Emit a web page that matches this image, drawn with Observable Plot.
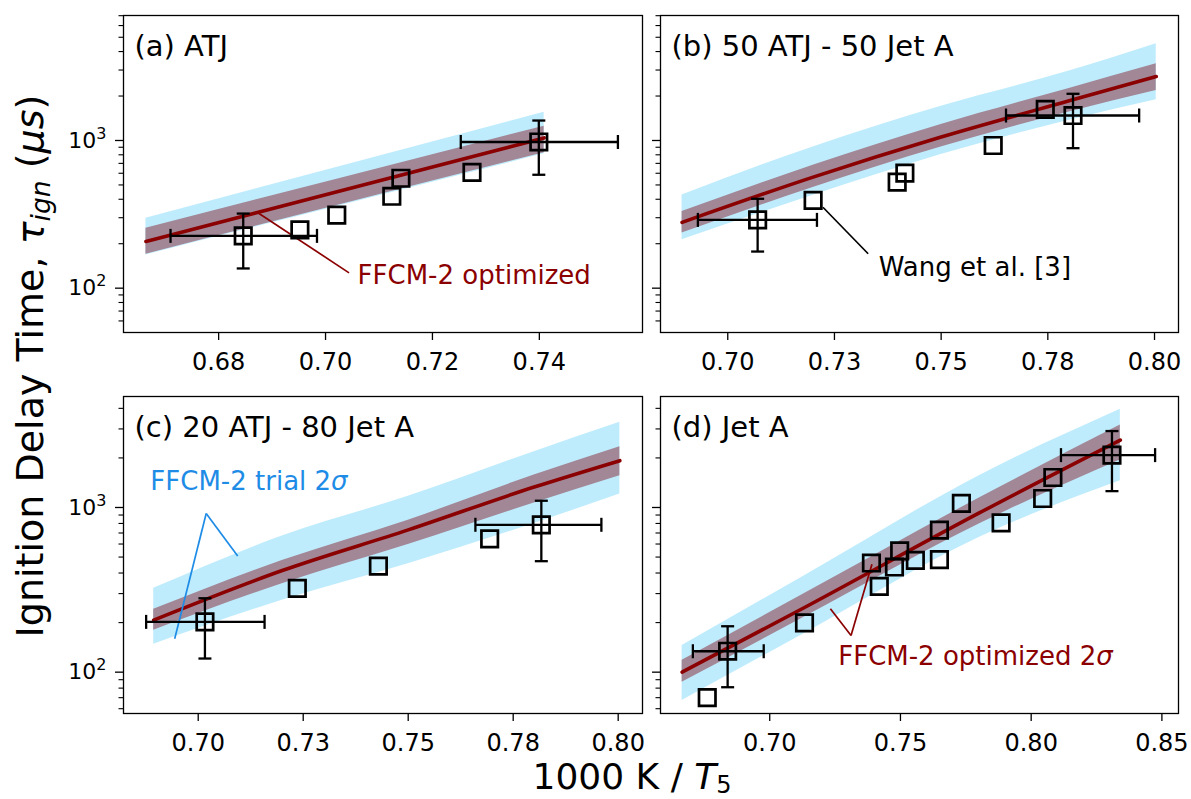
<!DOCTYPE html>
<html>
<head>
<meta charset="utf-8">
<script src="https://cdn.jsdelivr.net/npm/d3@7"></script>
<script src="https://cdn.jsdelivr.net/npm/@observablehq/plot@0.6"></script>
<style>
  body { margin: 0; background: #fff; }
  #fig { position: relative; width: 1191px; height: 799px; overflow: hidden; background: #fff; font-family: "DejaVu Sans"; }
  #fig > svg { position: absolute; }
</style>
</head>
<body>
<div id="fig"></div>
<script>
// ---------------- Panel (a) ATJ ----------------
const aTitle = "(a) ATJ";
const aModelX = [0.6664, 0.7036, 0.7409];
const aModel = [207, 464, 1041];
const aTrialLo = [168, 369, 812];
const aTrialHi = [298, 680, 1552];
const aOptLo = [170, 375, 825];
const aOptHi = [255, 564, 1249];
const aX = [0.6846, 0.6952, 0.7021, 0.7124, 0.7141, 0.7274, 0.7399];
const aY = [226, 248, 312, 419, 555, 608, 977];
const aErrX = [0.6846, 0.7399];
const aErrY = [226, 977];
const aErrYLo = [136, 586];
const aErrYHi = [320, 1365];
const aErrXLo = [0.6710, 0.7253];
const aErrXHi = [0.6984, 0.7547];
const aXTicks = [0.68, 0.70, 0.72, 0.74];
const aXTickLabels = ["0.68", "0.70", "0.72", "0.74"];
const aNoteText = ["FFCM-2 optimized"];
const aNoteX = [0.7060];
const aNoteY = [122];
const aNoteLineX1 = [0.6872];
const aNoteLineY1 = [327];
const aNoteLineX2 = [0.7044];
const aNoteLineY2 = [127];

// ---------------- Panel (b) 50 ATJ - 50 Jet A ----------------
const bTitle = "(b) 50 ATJ - 50 Jet A";
const bModelX = [0.6893, 0.7200, 0.7498, 0.7800, 0.8004];
const bModel = [279, 565, 1052, 1857, 2713];
const bTrialLo = [213, 425, 800, 1370, 1888];
const bTrialHi = [428, 905, 1700, 2950, 4520];
const bOptLo = [236, 480, 900, 1560, 2183];
const bOptHi = [330, 680, 1280, 2250, 3303];
const bX = [0.7070, 0.7200, 0.7397, 0.7415, 0.7622, 0.7744, 0.7809];
const bY = [290, 393, 523, 601, 925, 1623, 1476];
const bErrX = [0.7070, 0.7809];
const bErrY = [290, 1476];
const bErrYLo = [177, 887];
const bErrYHi = [403, 2071];
const bErrXLo = [0.6930, 0.7652];
const bErrXHi = [0.7209, 0.7964];
const bcXTicks = [0.700, 0.725, 0.750, 0.775, 0.800];
const bcXTickLabels = ["0.70", "0.73", "0.75", "0.78", "0.80"];
const bNoteText = ["Wang et al. [3]"];
const bNoteX = [0.7354];
const bNoteY = [137];
const bNoteLineX1 = [0.7223];
const bNoteLineY1 = [353];
const bNoteLineX2 = [0.7329];
const bNoteLineY2 = [171];

// ---------------- Panel (c) 20 ATJ - 80 Jet A ----------------
const cTitle = "(c) 20 ATJ - 80 Jet A";
const cModelX = [0.6894, 0.7200, 0.7500, 0.7800, 0.8004];
const cModel = [207, 414, 731, 1331, 1925];
const cTrialLo = [148, 273, 455, 800, 1207];
const cTrialHi = [323, 671, 1170, 2183, 3290];
const cOptLo = [180, 344, 595, 1065, 1559];
const cOptHi = [241, 476, 838, 1573, 2340];
const cX = [0.7016, 0.7236, 0.7429, 0.7694, 0.7817];
const cY = [202, 323, 441, 645, 785];
const cErrX = [0.7016, 0.7817];
const cErrY = [202, 785];
const cErrYLo = [121, 472];
const cErrYHi = [281, 1099];
const cErrXLo = [0.6876, 0.7660];
const cErrXHi = [0.7158, 0.7960];
const cNoteText = ["FFCM-2 trial 2σ"];
const cNoteX = [0.6886];
const cNoteY = [1429];
const cNoteLineX1 = [0.7019, 0.7019];
const cNoteLineY1 = [919, 919];
const cNoteLineX2 = [0.6944, 0.7094];
const cNoteLineY2 = [159.5, 508];

// ---------------- Panel (d) Jet A ----------------
const dTitle = "(d) Jet A";
const dModelX = [0.6665, 0.7133, 0.7805, 0.8341];
const dModel = [100, 247, 933, 2565];
const dTrialLo = [67.3, 172, 662, 1452];
const dTrialHi = [145, 385, 1571, 3945];
const dOptLo = [86.9, 216, 800, 1941];
const dOptHi = [118, 300, 1150, 3164];
const dX = [0.6761, 0.6839, 0.7133, 0.7389, 0.7419, 0.7477, 0.7497, 0.7557, 0.7649, 0.7649, 0.7733, 0.7885, 0.8044, 0.8083, 0.8309];
const dY = [70, 134, 199, 460, 332, 435, 545, 477, 728, 483, 1058, 806, 1134, 1521, 2080];
const dErrX = [0.6839, 0.8309];
const dErrY = [134, 2080];
const dErrYLo = [81, 1257];
const dErrYHi = [190, 2912];
const dErrXLo = [0.6706, 0.8114];
const dErrXHi = [0.6977, 0.8474];
const dXTicks = [0.70, 0.75, 0.80, 0.85];
const dXTickLabels = ["0.70", "0.75", "0.80", "0.85"];
const dNoteText = ["FFCM-2 optimized 2σ"];
const dNoteX = [0.7262];
const dNoteY = [124];
const dNoteLineX1 = [0.7311, 0.7311];
const dNoteLineY1 = [167, 167];
const dNoteLineX2 = [0.7232, 0.7391];
const dNoteLineY2 = [243, 452];

// shared y ticks (labels as base + exponent)
const yMajor = [100, 1000];
const yMajorBase = ["10", "10"];
const yMajorExp = ["2", "3"];

const BLUE = "#bfecfd";
const PURPLE = "#a28797";
const RED = "#8b0000";
const NOTE_BLUE = "#1e8ce6";

const capH = {draw(ctx) { ctx.moveTo(-6.5, 0); ctx.lineTo(6.5, 0); }};
const capV = {draw(ctx) { ctx.moveTo(0, -7); ctx.lineTo(0, 7); }};

const NS = "http://www.w3.org/2000/svg";
const fig = document.getElementById("fig");

function panel(o) {
  const model = o.mx.map((x, i) => ({x, line: o.line[i], tLo: o.tLo[i], tHi: o.tHi[i], oLo: o.oLo[i], oHi: o.oHi[i]}));
  const pts = o.px.map((x, i) => ({x, y: o.py[i]}));
  const errs = o.ex.map((x, i) => ({x, y: o.ey[i], ylo: o.eyLo[i], yhi: o.eyHi[i], xlo: o.exLo[i], xhi: o.exHi[i]}));
  const notes = o.noteText.map((t, i) => ({t, x: o.noteX[i], y: o.noteY[i]}));
  const noteLines = o.nlx1.map((x1, i) => ({x1, y1: o.nly1[i], x2: o.nlx2[i], y2: o.nly2[i]}));
  const minor = [];
  for (const dec of [10, 100, 1000]) for (let k = 2; k <= 9; k++) {
    const v = k * dec; if (v >= o.yDomain[0] && v <= o.yDomain[1]) minor.push(v);
  }
  const xLab = new Map(o.xTicks.map((t, i) => [t, o.xLabels[i]]));
  const yLab = new Map(yMajor.map((t, i) => [t, yMajorBase[i] + "^" + yMajorExp[i]]));
  const ML = o.ml, MR = 12, MT = 15, MB = 50;
  const svg = Plot.plot({
    width: o.w + ML + MR,
    height: 317 + MT + MB,
    marginLeft: ML, marginRight: MR, marginTop: MT, marginBottom: MB,
    style: {fontFamily: "DejaVu Sans", background: "transparent", overflow: "visible", color: "black"},
    x: {domain: o.xDomain},
    y: {type: "log", domain: o.yDomain},
    marks: [
      Plot.areaY(model, {x: "x", y1: "tLo", y2: "tHi", fill: BLUE, curve: "monotone-x"}),
      Plot.areaY(model, {x: "x", y1: "oLo", y2: "oHi", fill: PURPLE, curve: "monotone-x"}),
      Plot.line(model, {x: "x", y: "line", stroke: RED, strokeWidth: 3.6, curve: "monotone-x"}),
      Plot.link(noteLines, {x1: "x1", y1: "y1", x2: "x2", y2: "y2", stroke: o.noteColor, strokeWidth: 1.7}),
      Plot.link(errs, {x1: "xlo", x2: "xhi", y1: "y", y2: "y", stroke: "black", strokeWidth: 2.3}),
      Plot.link(errs, {x1: "x", x2: "x", y1: "ylo", y2: "yhi", stroke: "black", strokeWidth: 2.3}),
      Plot.dot(errs, {x: "xlo", y: "y", symbol: capV, stroke: "black", strokeWidth: 2.3, fill: "none"}),
      Plot.dot(errs, {x: "xhi", y: "y", symbol: capV, stroke: "black", strokeWidth: 2.3, fill: "none"}),
      Plot.dot(errs, {x: "x", y: "ylo", symbol: capH, stroke: "black", strokeWidth: 2.3, fill: "none"}),
      Plot.dot(errs, {x: "x", y: "yhi", symbol: capH, stroke: "black", strokeWidth: 2.3, fill: "none"}),
      Plot.dot(pts, {x: "x", y: "y", symbol: "square", r: 9.3, stroke: "black", strokeWidth: 2.7, fill: "none"}),
      Plot.frame({stroke: "black", strokeWidth: 1.3}),
      Plot.axisX(o.xTicks, {tickSize: 8, tickPadding: 12, strokeWidth: 1.3, tickFormat: d => xLab.get(d), fontSize: 24, label: null}),
      Plot.axisY(yMajor, {tickSize: 8, tickPadding: 9, strokeWidth: 1.3, tickFormat: d => o.yLabels ? yLab.get(d) : "", fontSize: 22, label: null}),
      Plot.axisY(minor, {tickSize: 4.5, strokeWidth: 1.1, tickFormat: () => "", label: null}),
      Plot.text([o.title], {frameAnchor: "top-left", dx: 11, dy: 20, lineAnchor: "top", textAnchor: "start", fontSize: 29, fill: "black"}),
      Plot.text(notes, {x: "x", y: "y", text: "t", textAnchor: "start", lineAnchor: "middle", fontSize: 26, fill: o.noteColor})
    ]
  });
  svg.style.left = (o.left - ML) + "px";
  svg.style.top = (o.top - MT) + "px";
  svg.querySelectorAll("text").forEach(t => {
    if (t.children.length !== 0) return;
    const s = t.textContent;
    if (s.endsWith("σ")) {
      // italic sigma as in the original mathtext
      t.textContent = s.slice(0, -1);
      const ts = document.createElementNS(NS, "tspan");
      ts.setAttribute("font-style", "italic");
      ts.textContent = "σ";
      t.appendChild(ts);
    } else if (s.includes("^")) {
      // power-of-ten tick label: base + raised exponent
      const [base, exp] = s.split("^");
      t.textContent = base;
      const ts = document.createElementNS(NS, "tspan");
      ts.setAttribute("font-size", "16");
      ts.setAttribute("dy", "-9");
      ts.textContent = exp;
      t.appendChild(ts);
    }
  });
  fig.appendChild(svg);
}

panel({left: 123, top: 15, w: 519, ml: 90, xDomain: [0.6622, 0.7593], yDomain: [50.1, 7020], yLabels: true,
  title: aTitle, mx: aModelX, line: aModel, tLo: aTrialLo, tHi: aTrialHi, oLo: aOptLo, oHi: aOptHi,
  px: aX, py: aY, ex: aErrX, ey: aErrY, eyLo: aErrYLo, eyHi: aErrYHi, exLo: aErrXLo, exHi: aErrXHi,
  xTicks: aXTicks, xLabels: aXTickLabels, noteText: aNoteText, noteX: aNoteX, noteY: aNoteY, noteColor: RED,
  nlx1: aNoteLineX1, nly1: aNoteLineY1, nlx2: aNoteLineX2, nly2: aNoteLineY2});

panel({left: 660, top: 15, w: 518, ml: 60, xDomain: [0.68424, 0.80562], yDomain: [50.1, 7020], yLabels: false,
  title: bTitle, mx: bModelX, line: bModel, tLo: bTrialLo, tHi: bTrialHi, oLo: bOptLo, oHi: bOptHi,
  px: bX, py: bY, ex: bErrX, ey: bErrY, eyLo: bErrYLo, eyHi: bErrYHi, exLo: bErrXLo, exHi: bErrXHi,
  xTicks: bcXTicks, xLabels: bcXTickLabels, noteText: bNoteText, noteX: bNoteX, noteY: bNoteY, noteColor: "black",
  nlx1: bNoteLineX1, nly1: bNoteLineY1, nlx2: bNoteLineX2, nly2: bNoteLineY2});

panel({left: 123, top: 396, w: 519, ml: 90, xDomain: [0.68221, 0.80579], yDomain: [56.1, 4721], yLabels: true,
  title: cTitle, mx: cModelX, line: cModel, tLo: cTrialLo, tHi: cTrialHi, oLo: cOptLo, oHi: cOptHi,
  px: cX, py: cY, ex: cErrX, ey: cErrY, eyLo: cErrYLo, eyHi: cErrYHi, exLo: cErrXLo, exHi: cErrXHi,
  xTicks: bcXTicks, xLabels: bcXTickLabels, noteText: cNoteText, noteX: cNoteX, noteY: cNoteY, noteColor: NOTE_BLUE,
  nlx1: cNoteLineX1, nly1: cNoteLineY1, nlx2: cNoteLineX2, nly2: cNoteLineY2});

panel({left: 660, top: 396, w: 518, ml: 60, xDomain: [0.65822, 0.85635], yDomain: [56.1, 4721], yLabels: false,
  title: dTitle, mx: dModelX, line: dModel, tLo: dTrialLo, tHi: dTrialHi, oLo: dOptLo, oHi: dOptHi,
  px: dX, py: dY, ex: dErrX, ey: dErrY, eyLo: dErrYLo, eyHi: dErrYHi, exLo: dErrXLo, exHi: dErrXHi,
  xTicks: dXTicks, xLabels: dXTickLabels, noteText: dNoteText, noteX: dNoteX, noteY: dNoteY, noteColor: RED,
  nlx1: dNoteLineX1, nly1: dNoteLineY1, nlx2: dNoteLineX2, nly2: dNoteLineY2});

// shared axis titles
const ov = document.createElementNS(NS, "svg");
ov.setAttribute("width", 1191); ov.setAttribute("height", 799);
ov.style.left = "0px"; ov.style.top = "0px";
ov.setAttribute("font-family", "DejaVu Sans");
ov.innerHTML =
  '<text transform="translate(43,366) rotate(-90)" text-anchor="middle" font-size="38" fill="black">Ignition Delay Time, ' +
  '<tspan font-style="italic">τ</tspan><tspan font-style="italic" font-size="26.6" dy="7">ign</tspan>' +
  '<tspan dy="-7"> (</tspan><tspan font-style="italic">μs</tspan>)</text>' +
  '<text x="632" y="789" text-anchor="middle" font-size="36" fill="black">1000 K / ' +
  '<tspan font-style="italic">T</tspan><tspan font-size="24" dy="4">5</tspan></text>';
fig.insertBefore(ov, fig.firstChild);
</script>
</body>
</html>
